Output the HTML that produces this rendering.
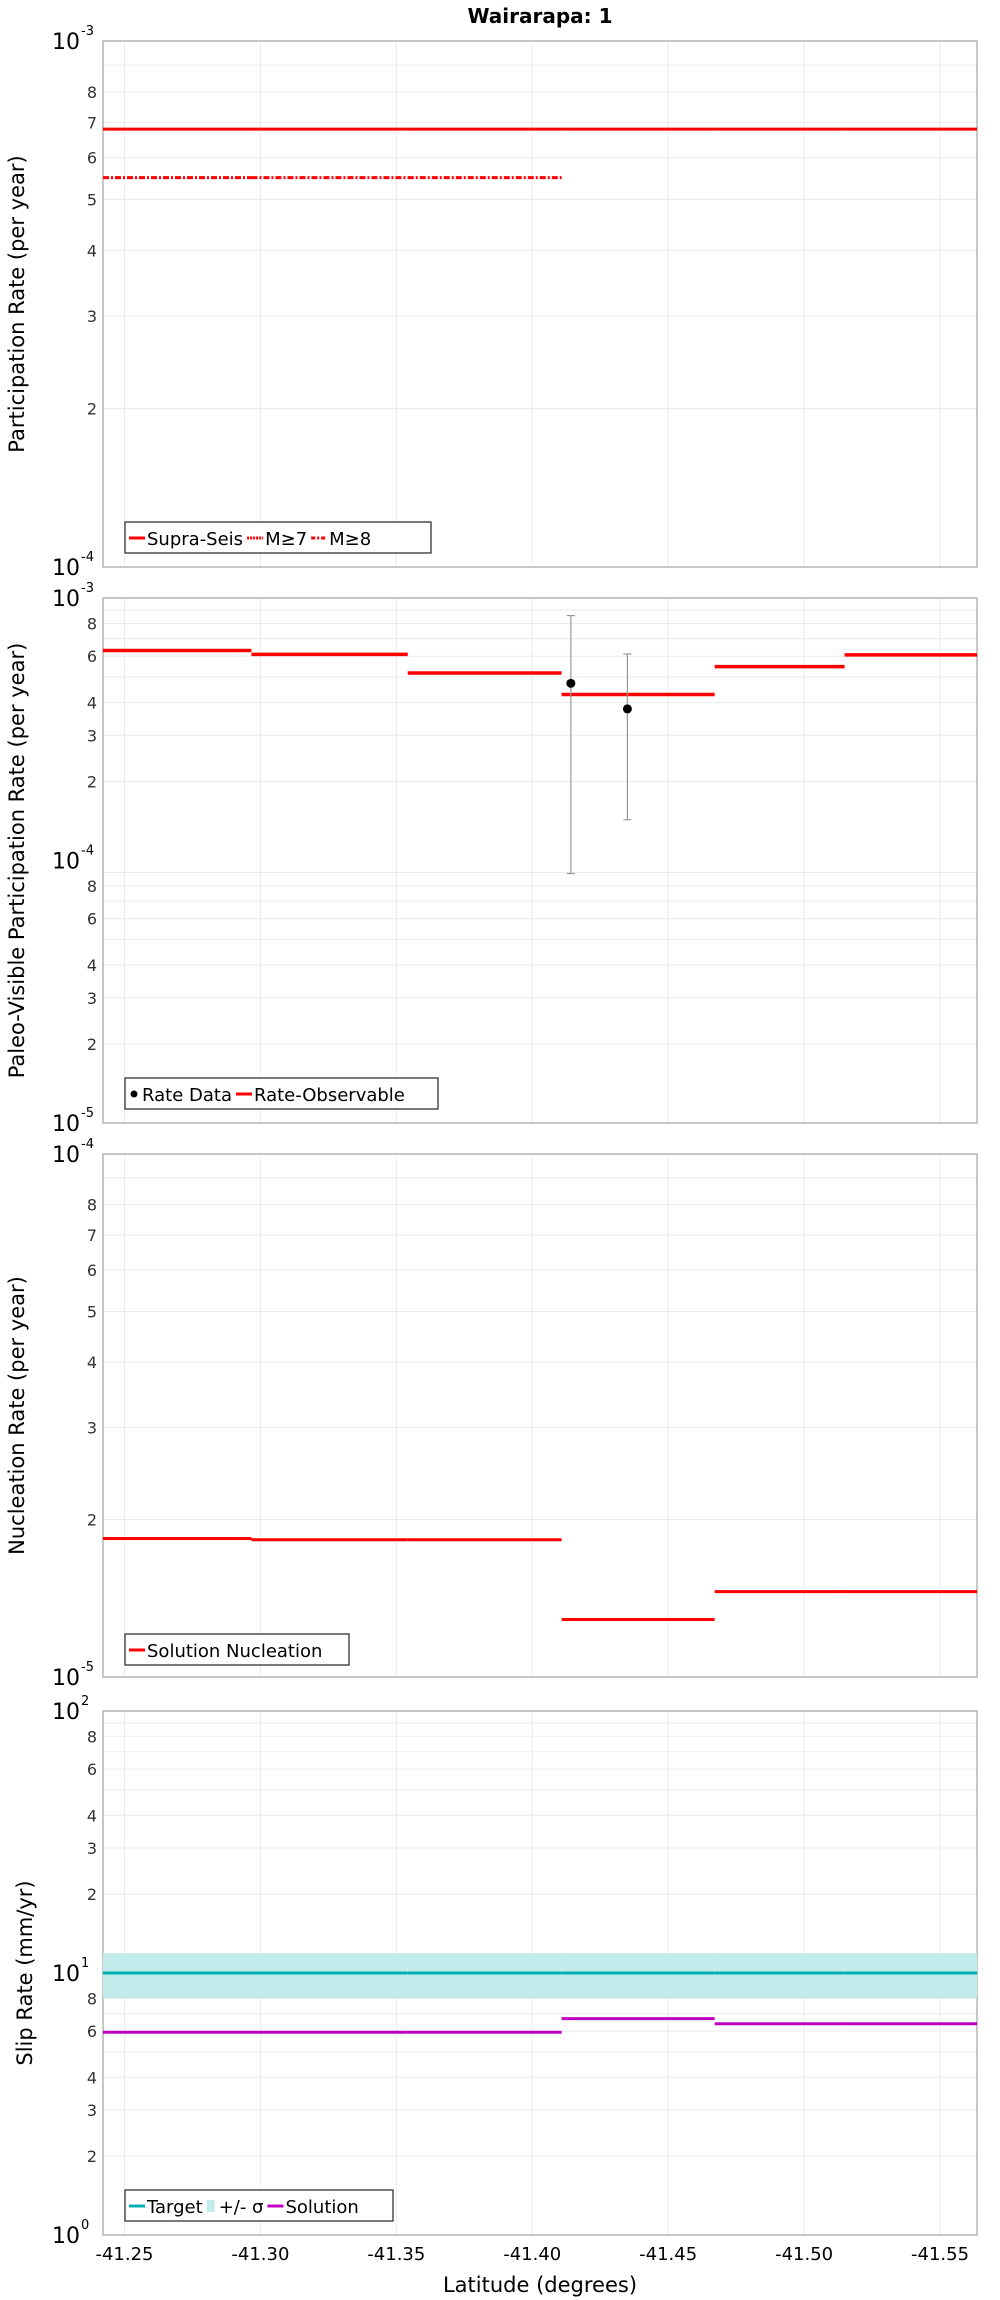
<!DOCTYPE html>
<html><head><meta charset="utf-8"><style>
html,body{margin:0;padding:0;background:#fff;}
svg{display:block;font-family:"DejaVu Sans","Liberation Sans",sans-serif;}
</style></head><body>
<svg id="chart" width="1000" height="2300" viewBox="0 0 1000 2300">
<text x="540" y="23" text-anchor="middle" font-size="20" font-weight="bold">Wairarapa: 1</text>
</svg>
<script>
// ---- data ----
const xTicks = [-41.25, -41.30, -41.35, -41.40, -41.45, -41.50, -41.55];
const xTickLabels = ["-41.25", "-41.30", "-41.35", "-41.40", "-41.45", "-41.50", "-41.55"];
const xDomain = [-41.2421, -41.5636];
const segStart = [-41.2421, -41.2967, -41.3542, -41.4108, -41.4671, -41.5149];
const segEnd   = [-41.2967, -41.3542, -41.4108, -41.4671, -41.5149, -41.5636];
const supraSeis = [6.8e-4, 6.8e-4, 6.8e-4, 6.8e-4, 6.8e-4, 6.8e-4];
const mGe7 = [6.8e-4, 6.8e-4, 6.8e-4, 6.8e-4, 6.8e-4, 6.8e-4];
const mGe8 = [5.5e-4, 5.5e-4, 5.5e-4];
const rateObservable = [6.31e-4, 6.1e-4, 5.18e-4, 4.29e-4, 5.48e-4, 6.07e-4];
const rateDataLat = [-41.4142, -41.435];
const rateDataVal = [4.73e-4, 3.78e-4];
const rateDataHi = [8.57e-4, 6.12e-4];
const rateDataLo = [8.92e-5, 1.43e-4];
const nucleation = [1.84e-5, 1.83e-5, 1.83e-5, 1.288e-5, 1.456e-5, 1.456e-5];
const slipTarget = [10, 10, 10, 10, 10, 10];
const slipSigmaHi = [11.9, 11.9, 11.9, 11.9, 11.9, 11.9];
const slipSigmaLo = [8.0, 8.0, 8.0, 8.0, 8.0, 8.0];
const slipSolution = [5.94, 5.94, 5.94, 6.7, 6.4, 6.4];

// ---- layout ----
const NS = "http://www.w3.org/2000/svg";
const svg = document.getElementById('chart');
const L = 103, R = 977;
function xs(v){ return L + (v - xDomain[0]) / (xDomain[1] - xDomain[0]) * (R - L); }
function mk(tag, attrs, parent){
  const e = document.createElementNS(NS, tag);
  for (const k in attrs) e.setAttribute(k, attrs[k]);
  (parent || svg).appendChild(e);
  return e;
}
const panels = [
  {top:41, bot:567, exp0:-4, exp1:-3, labels:[2,3,4,5,6,7,8], title:"Participation Rate (per year)", tx:18, name:"participation-panel"},
  {top:598, bot:1123, exp0:-5, exp1:-3, labels:[2,3,4,6,8], title:"Paleo-Visible Participation Rate (per year)", tx:18, name:"paleo-panel"},
  {top:1154, bot:1677, exp0:-5, exp1:-4, labels:[2,3,4,5,6,7,8], title:"Nucleation Rate (per year)", tx:18, name:"nucleation-panel"},
  {top:1711, bot:2235, exp0:0, exp1:2, labels:[2,3,4,6,8], title:"Slip Rate (mm/yr)", tx:26, name:"slip-panel"}
];
panels.forEach(p => { p.ys = v => p.bot - (Math.log10(v) - p.exp0) / (p.exp1 - p.exp0) * (p.bot - p.top); });

panels.forEach(p => {
  const g = mk('g', {});
  
  
  p.g = g;
  // vertical grid
  xTicks.forEach(t => {
    const ln = mk('line', {x1:xs(t), x2:xs(t), y1:p.top, y2:p.bot, stroke:'#ebebeb', 'stroke-width':1}, g);
    
    
  });
  // horizontal grid + y labels
  for (let e = p.exp0; e <= p.exp1; e++) {
    const yMaj = p.ys(Math.pow(10, e));
    const mj = mk('text', {x:80, y:yMaj+8, 'text-anchor':'end', 'font-size':22, fill:'#000'}, g);
    mj.textContent = '10';
    
    
    const sup = mk('text', {x:81, y:yMaj-6, 'font-size':13, fill:'#000'}, g);
    sup.textContent = String(e);
    
    
    if (e === p.exp1) continue;
    for (let m = 2; m <= 9; m++) {
      const v = m * Math.pow(10, e);
      const y = p.ys(v);
      const ln = mk('line', {x1:L, x2:R, y1:y, y2:y, stroke:'#ebebeb', 'stroke-width':1}, g);
      
      
      if (p.labels.indexOf(m) >= 0) {
        const t = mk('text', {x:97, y:y+6, 'text-anchor':'end', 'font-size':16, fill:'#333'}, g);
        t.textContent = String(m);
        
        
      }
    }
  }
  const fr = mk('rect', {x:L, y:p.top, width:R-L, height:p.bot-p.top, fill:'none', stroke:'#b4b4b4', 'stroke-width':1.5}, g);
  
  
  const cy = (p.top + p.bot) / 2;
  const tt = mk('text', {x:p.tx, y:cy, 'text-anchor':'middle', 'font-size':21, transform:'rotate(-90 '+p.tx+' '+cy+')', 'dominant-baseline':'middle'}, g);
  tt.textContent = p.title;
  
  
});

function seg(p, vals, color, w, dash, name, n){
  const count = n || vals.length;
  for (let i = 0; i < count; i++) {
    const a = {x1:xs(segStart[i]), x2:xs(segEnd[i]), y1:p.ys(vals[i]), y2:p.ys(vals[i]), stroke:color, 'stroke-width':w};
    if (dash) a['stroke-dasharray'] = dash;
    const ln = mk('line', a, p.g);
    
    
  }
}
// panel 1
seg(panels[0], supraSeis, '#ff0000', 3, null, 'supra-seis-line');
seg(panels[0], mGe7, '#ff0000', 2, '2,2', 'm-ge-7-line');
seg(panels[0], mGe8, '#ff0000', 3, '6,2,2,2', 'm-ge-8-line', mGe8.length);
// panel 2
seg(panels[1], rateObservable, '#ff0000', 3.5, null, 'rate-observable-line');
rateDataLat.forEach((lat, i) => {
  const p = panels[1], x = xs(lat);
  const eb = mk('line', {x1:x, x2:x, y1:p.ys(rateDataHi[i]), y2:p.ys(rateDataLo[i]), stroke:'#999', 'stroke-width':1.2}, p.g);
  
  
  [rateDataHi[i], rateDataLo[i]].forEach(v => {
    const c = mk('line', {x1:x-4, x2:x+4, y1:p.ys(v), y2:p.ys(v), stroke:'#999', 'stroke-width':1.2}, p.g);
    
    
  });
  const pt = mk('circle', {cx:x, cy:p.ys(rateDataVal[i]), r:4.5, fill:'#000'}, p.g);
  
  
});
// panel 3
seg(panels[2], nucleation, '#ff0000', 3, null, 'nucleation-line');
// panel 4
(function(){
  const p = panels[3];
  for (let i = 0; i < slipSigmaHi.length; i++) {
    const r = mk('rect', {x:xs(segStart[i]), y:p.ys(slipSigmaHi[i]), width:xs(segEnd[i])-xs(segStart[i]), height:p.ys(slipSigmaLo[i])-p.ys(slipSigmaHi[i]), fill:'#c2ecec'}, p.g);
    
    
  }
})();
seg(panels[3], slipTarget, '#00b0b0', 3, null, 'target-line');
seg(panels[3], slipSolution, '#c000c0', 3, null, 'solution-line');

// x tick labels & title
xTicks.forEach((t, i) => {
  const tx = mk('text', {x:xs(t), y:2260, 'text-anchor':'middle', 'font-size':18});
  tx.textContent = xTickLabels[i];
  
  
});
const xt = mk('text', {x:540, y:2292, 'text-anchor':'middle', 'font-size':21});
xt.textContent = 'Latitude (degrees)';



// legends
function legend(y, w, items, name){
  const g = mk('g', {});
  
  
  const box = mk('rect', {x:125, y:y, width:w, height:31, fill:'#fff', stroke:'#333', 'stroke-width':1.3}, g);
  
  
  let x = 129;
  items.forEach(it => {
    if (it.type === 'dot') {
      const c = mk('circle', {cx:x+5, cy:y+16, r:3.5, fill:'#000'}, g);
      
      
      x += 13;
    } else if (it.type === 'rect') {
      const c = mk('rect', {x:x, y:y+10, width:8, height:12, fill:it.color}, g);
      
      
      x += 12;
    } else {
      const a = {x1:x, x2:x+16, y1:y+16, y2:y+16, stroke:it.color, 'stroke-width':3};
      if (it.dash) a['stroke-dasharray'] = it.dash;
      const c = mk('line', a, g);
      
      
      x += 18;
    }
    const t = mk('text', {x:x, y:y+23, 'font-size':18}, g);
    t.textContent = it.label;
    
    
    x += t.getComputedTextLength() + 4;
  });
}
legend(522, 306, [{label:'Supra-Seis', color:'#ff0000'}, {label:'M≥7', color:'#ff0000', dash:'2,1'}, {label:'M≥8', color:'#ff0000', dash:'4,2,2,2'}], 'legend-participation');
legend(1078, 313, [{label:'Rate Data', type:'dot'}, {label:'Rate-Observable', color:'#ff0000'}], 'legend-paleo');
legend(1634, 224, [{label:'Solution Nucleation', color:'#ff0000'}], 'legend-nucleation');
legend(2190, 268, [{label:'Target', color:'#00b0b0'}, {label:'+/- σ', type:'rect', color:'#c2ecec'}, {label:'Solution', color:'#c000c0'}], 'legend-slip');
</script>
</body></html>
